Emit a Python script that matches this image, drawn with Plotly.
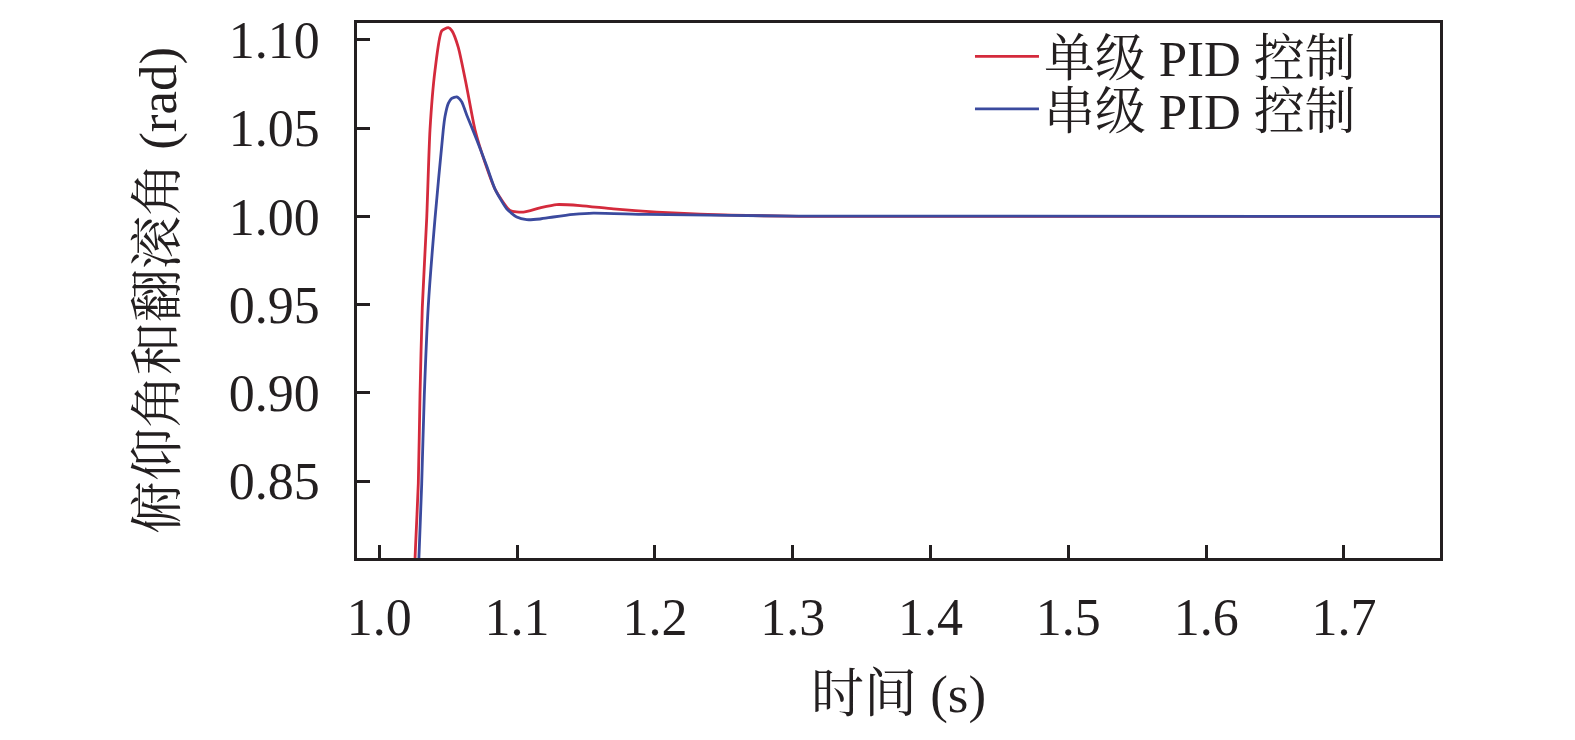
import plotly.graph_objects as go

# 单级 PID 控制 (rot)
x_single = [1.02554, 1.02627, 1.02830, 1.02954, 1.03120, 1.03440, 1.03679, 1.04042, 1.04528,
            1.05007, 1.05276, 1.05733, 1.06343, 1.06945, 1.07671, 1.08396, 1.09485, 1.10450,
            1.11662, 1.12874, 1.14565, 1.16981, 1.20131, 1.23273, 1.27845, 1.30530, 1.77]
y_single = [0.79860, 0.81260, 0.84866, 0.89905, 0.94832, 0.99871, 1.04911, 1.08270, 1.10510,
            1.10694, 1.10510, 1.09574, 1.07335, 1.04911, 1.03046, 1.01551, 1.00336, 1.00246,
            1.00487, 1.00672, 1.00616, 1.00431, 1.00246, 1.00123, 1.00039, 1.0, 1.0]

# 串级 PID 控制 (blau)
x_cascade = [1.02845, 1.02881, 1.03077, 1.03266, 1.03556, 1.04042, 1.04644, 1.04768, 1.05007,
             1.05254, 1.05617, 1.05975, 1.06343, 1.07068, 1.07794, 1.08396, 1.09245, 1.09971,
             1.10697, 1.11662, 1.12627, 1.14078, 1.15530, 1.19405, 1.30290, 1.77]
y_cascade = [0.79860, 0.80784, 0.84849, 0.89888, 0.94944, 0.99871, 1.04911, 1.05655, 1.06405,
             1.06685, 1.06775, 1.06495, 1.05750, 1.04351, 1.02856, 1.01551, 1.00431, 0.99966,
             0.99815, 0.99854, 0.99966, 1.00112, 1.00190, 1.00112, 1.00022, 1.0]

x_ticks = [1.0, 1.1, 1.2, 1.3, 1.4, 1.5, 1.6, 1.7]
y_ticks = [0.85, 0.90, 0.95, 1.00, 1.05, 1.10]

font_fam = "Liberation Serif, Noto Serif CJK SC, Noto Sans CJK SC"
axis_col = "#231f20"

fig = go.Figure()
fig.add_trace(go.Scatter(x=x_single, y=y_single, mode='lines', name='单级 PID 控制', legend='legend',
                         line=dict(color='#d42a3c', width=2.8, shape='spline', smoothing=0.6)))
fig.add_trace(go.Scatter(x=x_cascade, y=y_cascade, mode='lines', name='串级 PID 控制', legend='legend2',
                         line=dict(color='#3b4a9e', width=2.8, shape='spline', smoothing=0.6)))

leg = dict(x=0.566, xanchor='left', yanchor='middle', bgcolor='rgba(0,0,0,0)',
           font=dict(size=51), itemwidth=64)

# Seite hat 8px Body-Rand -> Ränder entsprechend verschoben
fig.update_layout(
    width=1575, height=740,
    margin=dict(l=349, r=143, t=9, b=190),
    plot_bgcolor='white', paper_bgcolor='white',
    font=dict(family=font_fam, size=44, color=axis_col),
    showlegend=True,
    legend=dict(leg, y=0.937),
    legend2=dict(leg, y=0.839),
    xaxis=dict(range=[0.98382, 1.7697], tickvals=x_ticks, ticktext=[f"{v:.1f}" for v in x_ticks],
               ticks='inside', ticklen=13, tickwidth=2.5, tickcolor=axis_col,
               showline=True, linewidth=2.5, linecolor=axis_col, mirror=True,
               showgrid=False, zeroline=False, ticklabelstandoff=12, automargin=False,
               tickfont=dict(size=52),
               title=dict(text='时间 (s)', standoff=30)),
    yaxis=dict(range=[0.80649, 1.10957], tickvals=y_ticks, ticktext=[f"{v:.2f}" for v in y_ticks],
               ticks='inside', ticklen=13, tickwidth=2.5, tickcolor=axis_col,
               showline=True, linewidth=2.5, linecolor=axis_col, mirror=True,
               showgrid=False, zeroline=False, ticklabelstandoff=24, automargin=False,
               tickfont=dict(size=52),
               title=dict(text='俯仰角和翻滚角 (rad)', standoff=36)),
)

fig.write_html("out.html")
